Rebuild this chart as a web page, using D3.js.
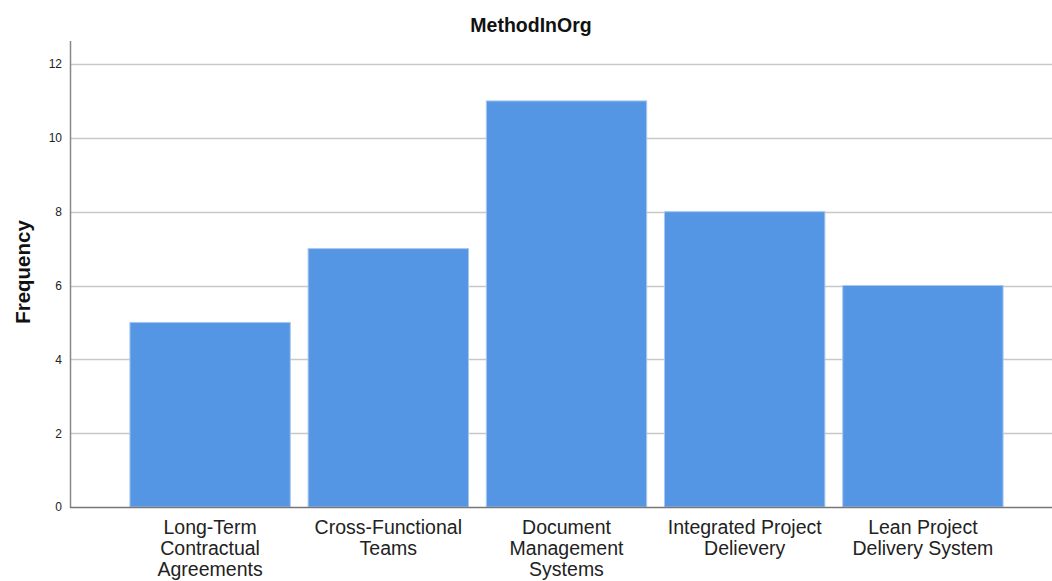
<!DOCTYPE html>
<html><head><meta charset="utf-8">
<script src="https://cdn.jsdelivr.net/npm/d3@7"></script>
<style>body{margin:0;background:#fff}svg{display:block}</style>
</head><body>
<svg id="c" width="1052" height="581"></svg>
<script>
const categories = [
  ["Long-Term","Contractual","Agreements"],
  ["Cross-Functional","Teams"],
  ["Document","Management","Systems"],
  ["Integrated Project","Delievery"],
  ["Lean Project","Delivery System"]
];
const frequencies = [5, 7, 11, 8, 6];
const yTicks = [0, 2, 4, 6, 8, 10, 12];
const titleText = "MethodInOrg";
const yLabel = "Frequency";

const svg = d3.select("#c");
const plotLeft = 70, plotRight = 1052, plotTop = 41, plotBottom = 507;
const keys = categories.map(c => c.join(" "));
const x = d3.scaleBand().domain(keys).range([121, 1012]).paddingInner(0.1).paddingOuter(0.05);
const y = d3.scaleLinear().domain([0, 12]).range([plotBottom, 64]);
const font = "Arial, Liberation Sans, sans-serif";

// gridlines
svg.append("g").selectAll("line").data(yTicks.filter(t => t > 0)).join("line")
  .attr("x1", plotLeft).attr("x2", plotRight)
  .attr("y1", d => Math.round(y(d)) + 0.5).attr("y2", d => Math.round(y(d)) + 0.5)
  .attr("stroke", "#c8c8c8").attr("stroke-width", 1.3);

// bars
svg.append("g").selectAll("rect").data(frequencies).join("rect")
  .attr("x", (d, i) => x(keys[i]))
  .attr("width", x.bandwidth())
  .attr("y", d => y(d))
  .attr("height", d => y(0) - y(d))
  .attr("fill", "#5596e4")
  .attr("stroke", "#a9c8f0").attr("stroke-width", 1);

// y axis
const yAxis = d3.axisLeft(y).tickValues(yTicks).tickSize(0).tickPadding(8).tickFormat(d3.format("d"));
const gy = svg.append("g").attr("transform", `translate(${plotLeft},0)`).call(yAxis);
gy.select(".domain").remove();
gy.selectAll("text").attr("font-family", font).attr("font-size", 12).attr("fill", "#222");
svg.append("line").attr("x1", plotLeft + 0.5).attr("x2", plotLeft + 0.5).attr("y1", plotTop).attr("y2", plotBottom + 1)
  .attr("stroke", "#888").attr("stroke-width", 1.5);

// x axis
svg.append("line").attr("x1", plotLeft).attr("x2", plotRight).attr("y1", plotBottom + 0.5).attr("y2", plotBottom + 0.5)
  .attr("stroke", "#777").attr("stroke-width", 1.5);
const xl = svg.append("g");
categories.forEach((lines, i) => {
  const cx = x(keys[i]) + x.bandwidth() / 2;
  const t = xl.append("text").attr("x", cx).attr("y", 534)
    .attr("text-anchor", "middle").attr("font-family", font)
    .attr("font-size", 19.5).attr("fill", "#222");
  lines.forEach((l, j) => t.append("tspan").attr("x", cx).attr("dy", j === 0 ? 0 : 21).text(l));
});

// title
svg.append("text").attr("x", 531).attr("y", 32).attr("text-anchor", "middle")
  .attr("font-family", font).attr("font-weight", "bold").attr("font-size", 19.5)
  .attr("fill", "#111").text(titleText);

// y label
svg.append("text").attr("transform", `translate(30,272) rotate(-90)`).attr("text-anchor", "middle")
  .attr("font-family", font).attr("font-weight", "bold").attr("font-size", 20.5)
  .attr("fill", "#111").text(yLabel);
</script>
</body></html>
